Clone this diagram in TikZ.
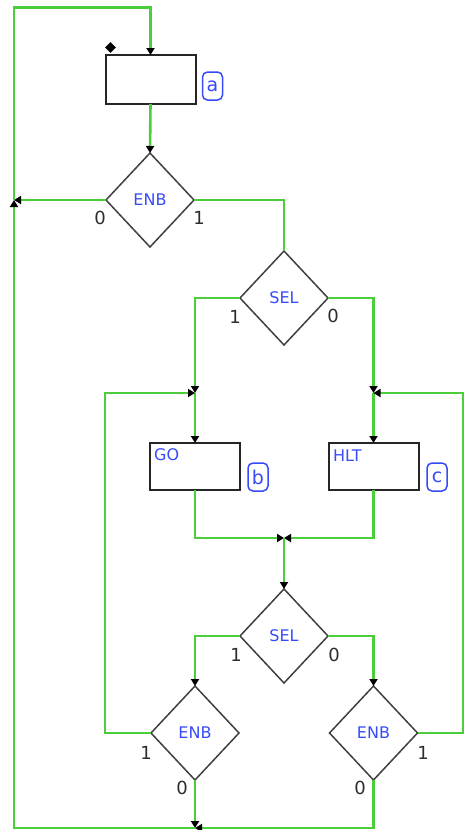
\documentclass[tikz,border=0pt]{standalone}
\usepackage{fontspec}
\setmainfont{DejaVu Sans}
\usetikzlibrary{shapes.geometric,arrows.meta}
\definecolor{wirec}{RGB}{75,205,60}
\definecolor{txtblue}{RGB}{55,75,250}
\definecolor{digitc}{RGB}{45,45,45}
\begin{document}
\begin{tikzpicture}[x=1pt,y=-1pt,
  wire/.style={draw=wirec, line width=2.6pt},
  arr/.style={wire, -{Triangle[color=black,width=8pt,length=7pt]}},
  blk/.style={draw=black!85, line width=2pt, fill=white, minimum width=90pt, minimum height=49pt, inner sep=0pt, outer sep=0pt},
  dec/.style={diamond, draw=black!75, line width=1.5pt, fill=white, minimum width=88pt, minimum height=94pt, inner sep=0pt, outer sep=0pt, font=\fontsize{16}{19}\selectfont, text=txtblue},
  tag/.style={draw=txtblue, line width=1.5pt, rounded corners=5pt, minimum width=20pt, minimum height=28pt, inner sep=0pt, text=txtblue, font=\fontsize{19}{22}\selectfont},
  num/.style={text=digitc, font=\fontsize{18}{21}\selectfont, inner sep=0pt},
  lbl/.style={text=txtblue, font=\fontsize{16}{19}\selectfont, inner sep=0pt, anchor=west}
]
\fill[white] (0,0) rectangle (464,830);
\useasboundingbox (0,0) rectangle (464,830);

% nodes
\node[blk] (A) at (150.5,79.5) {};
\node[tag] (ta) at (212.5,86) {a};
\node[diamond, fill=black, minimum width=11pt, minimum height=11pt, inner sep=0pt] (ent) at (110.5,47.5) {};
\node[dec] (E1) at (150,200) {ENB};
\node[dec] (S1) at (284,298) {SEL};
\node[blk, minimum height=47pt] (GO) at (195,466.5) {};
\node[blk, minimum height=47pt] (HL) at (373.5,466.5) {};
\node[lbl] (tgo) at (154,455) {GO};
\node[lbl] (thl) at (333,456) {HLT};
\node[tag] (tb) at (258,477) {b};
\node[tag] (tc) at (437,477) {c};
\node[dec] (S2) at (284,636) {SEL};
\node[dec] (EL) at (195,733) {ENB};
\node[dec] (ER) at (373.5,733) {ENB};

% digit labels
\node[num] (e1z) at (100,218) {0};
\node[num] (e1o) at (199,218) {1};
\node[num] (s1o) at (235,317) {1};
\node[num] (s1z) at (333,316) {0};
\node[num] (s2o) at (236,655) {1};
\node[num] (s2z) at (334,655) {0};
\node[num] (elo) at (146,753) {1};
\node[num] (elz) at (182,788) {0};
\node[num] (ero) at (423,753) {1};
\node[num] (erz) at (360,788) {0};

% junction points
\coordinate (J1) at (195,393);
\coordinate (J2) at (373.5,393);
\coordinate (J3) at (284,538);
\coordinate (J4) at (195,828);
\coordinate (J5) at (14,200);
\coordinate (BL) at (14,828);
\coordinate (TL) at (14,7.5);
\coordinate (LL) at (105,733);
\coordinate (RR) at (463,733);

% connectors
\draw[arr] (A.south) -- (E1.north);
\draw[wire] (E1.east) -| (S1.north);
\draw[arr] (S1.west) -| (J1);
\draw[arr] (S1.east) -| (J2);
\draw[arr] (J1) -- (GO.north);
\draw[arr] (J2) -- (HL.north);
\draw[arr] (EL.west) -- (LL) |- (J1);
\draw[arr] (ER.east) -- (RR) |- (J2);
\draw[arr] (GO.south) |- (J3);
\draw[arr] (HL.south) |- (J3);
\draw[arr] (J3) -- (S2.north);
\draw[arr] (S2.west) -| (EL.north);
\draw[arr] (S2.east) -| (ER.north);
\draw[arr] (ER.south) |- (J4);
\draw[arr] (EL.south) -- (J4);
\draw[arr] (J4) -- (BL) -- (J5);
\draw[arr] (E1.west) -- (J5);
\draw[arr] (J5) -- (TL) -| (A.north);
\end{tikzpicture}
\end{document}
